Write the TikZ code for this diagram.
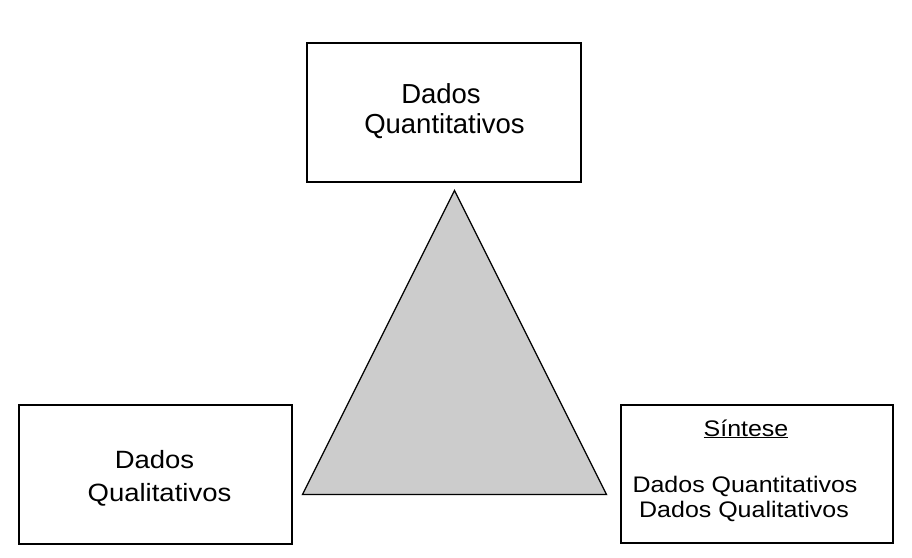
\documentclass[tikz,border=0pt]{standalone}
\usepackage{fontspec}
\setmainfont{Liberation Sans}
\newfontfamily\fontL[FakeStretch=1.1]{Liberation Sans}
\newfontfamily\fontR[FakeStretch=1.11]{Liberation Sans}
\definecolor{trigray}{HTML}{CCCCCC}
\begin{document}
\begin{tikzpicture}[x=1pt,y=-1pt,
  box/.style={draw, line width=1.3pt, rectangle, inner sep=0pt, outer sep=0pt},
  lbl/.style={anchor=base, inner sep=0pt}]
\useasboundingbox (0,0) rectangle (912,557);
% boxes
\node[box, minimum width=274pt, minimum height=139pt] (topbox) at (444,112.5) {};
\node[box, minimum width=273pt, minimum height=139pt] (leftbox) at (155.5,474.5) {};
\node[box, minimum width=272pt, minimum height=138pt] (rightbox) at (757,474) {};
% triangle
\coordinate (apex) at (454.5,190.5);
\coordinate (bl) at (302.5,494.5);
\coordinate (br) at (606.5,494.5);
\draw[line width=1.3pt, fill=trigray] (apex) -- (br) -- (bl) -- cycle;
% texts
\node[lbl, font=\fontsize{27.5}{30}\selectfont] (t1) at (441,103) {Dados};
\node[lbl, font=\fontsize{27.5}{30}\selectfont] (t2) at (444.5,133) {Quantitativos};
\node[lbl, font=\fontL\fontsize{25}{30}\selectfont] (l1) at (154.5,468) {Dados};
\node[lbl, font=\fontL\fontsize{25}{30}\selectfont] (l2) at (159.5,501) {Qualitativos};
\node[lbl, font=\fontR\fontsize{22.5}{25}\selectfont] (r1) at (746,436) {\underline{Síntese}};
\node[lbl, font=\fontR\fontsize{22.5}{25}\selectfont] (r2) at (745,492.5) {Dados Quantitativos};
\node[lbl, font=\fontR\fontsize{22.5}{25}\selectfont] (r3) at (744,517) {Dados Qualitativos};
\end{tikzpicture}
\end{document}
